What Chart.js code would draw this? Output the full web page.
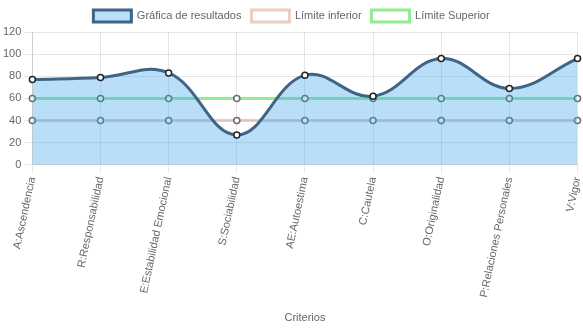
<!DOCTYPE html>
<html>
<head>
<meta charset="utf-8">
<script src="https://cdn.jsdelivr.net/npm/chart.js@4/dist/chart.umd.min.js"></script>
<style>
html,body{margin:0;padding:0;background:#fff;}
#wrap{width:583px;height:328px;position:relative;}
</style>
</head>
<body>
<div id="wrap"><canvas id="c"></canvas></div>
<script>
const categories = ["A:Ascendencia","R:Responsabilidad","E:Estabilidad Emocional","S:Sociabilidad","AE:Autoestima","C:Cautela","O:Originalidad","P:Relaciones Personales","V:Vigor"];
const resultados = [77, 79, 83, 27, 81, 62, 96, 69, 96];
const limiteInferior = [40, 40, 40, 40, 40, 40, 40, 40, 40];
const limiteSuperior = [60, 60, 60, 60, 60, 60, 60, 60, 60];
const yTicks = {min: 0, max: 120, step: 20};

Chart.defaults.font.family = "'Liberation Sans', Arial, Helvetica, sans-serif";
Chart.defaults.font.size = 11;
Chart.defaults.color = '#666';

new Chart(document.getElementById('c'), {
  type: 'line',
  data: {
    labels: categories,
    datasets: [
      {
        label: 'Gráfica de resultados',
        data: resultados,
        borderColor: 'rgb(62,100,134)',
        backgroundColor: 'rgba(54,162,235,0.35)',
        borderWidth: 3,
        fill: 'origin',
        tension: 0.4,
        pointRadius: 3,
        pointBorderWidth: 1.5,
        pointBackgroundColor: '#fff',
        pointBorderColor: '#222'
      },
      {
        label: 'Límite inferior',
        data: limiteInferior,
        borderColor: 'rgba(215,165,145,0.55)',
        backgroundColor: 'rgba(255,255,255,0)',
        borderWidth: 3,
        fill: false,
        tension: 0,
        pointRadius: 3,
        pointBorderWidth: 1.5,
        pointBackgroundColor: '#fff',
        pointBorderColor: 'rgba(60,60,60,0.75)'
      },
      {
        label: 'Límite Superior',
        data: limiteSuperior,
        borderColor: 'rgba(144,238,144,1)',
        backgroundColor: 'rgba(255,255,255,0)',
        borderWidth: 3,
        fill: false,
        tension: 0,
        pointRadius: 3,
        pointBorderWidth: 1.5,
        pointBackgroundColor: '#fff',
        pointBorderColor: 'rgba(60,60,60,0.75)'
      }
    ]
  },
  options: {
    responsive: true,
    maintainAspectRatio: false,
    animation: false,
    layout: {padding: {left: 0, right: 0, top: 0, bottom: 0}},
    plugins: {
      legend: {
        display: true,
        position: 'top',
        labels: {boxWidth: 38, boxHeight: 12, padding: 10, font: {size: 11}, color: '#666'}
      },
      tooltip: {enabled: false}
    },
    scales: {
      x: {
        grid: {color: 'rgba(0,0,0,0.1)'},
        ticks: {minRotation: 78, maxRotation: 78, autoSkip: false, color: '#666', font: {size: 11}},
        title: {display: true, text: 'Criterios', color: '#666', font: {size: 11}, padding: {top: 10, bottom: 3}},
        afterFit: (scale) => { scale.paddingRight = 0; }
      },
      y: {
        min: yTicks.min,
        max: yTicks.max,
        grid: {color: 'rgba(0,0,0,0.1)'},
        ticks: {stepSize: yTicks.step, color: '#666', font: {size: 11}}
      }
    }
  }
});
</script>
</body>
</html>
